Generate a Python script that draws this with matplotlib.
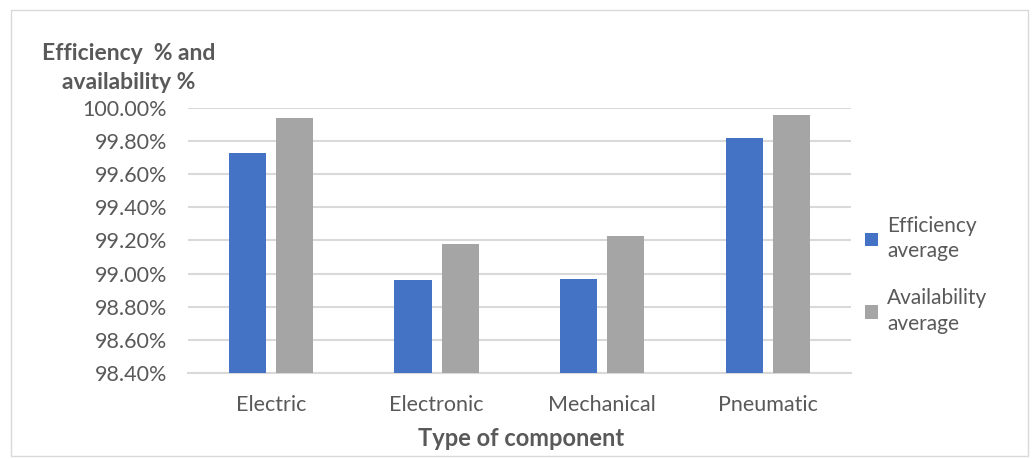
import numpy as np
import matplotlib.pyplot as plt
from matplotlib.patches import Rectangle
from matplotlib.ticker import FuncFormatter

plt.rcParams['font.family'] = ['Lato', 'DejaVu Sans']

# Data
categories = ['Electric', 'Electronic', 'Mechanical', 'Pneumatic']
efficiency = [99.727, 98.962, 98.970, 99.816]
availability = [99.940, 99.180, 99.227, 99.960]
series_names = ['Efficiency\naverage', 'Availability\naverage']
yticks = [98.4, 98.6, 98.8, 99.0, 99.2, 99.4, 99.6, 99.8, 100.0]

text_col = '#595959'
grid_col = '#d9d9d9'

fig = plt.figure(figsize=(10.35, 4.59), dpi=100)
ax = fig.add_axes([0.1816, 0.1874, 0.8222 - 0.1816, 0.7647 - 0.1874])

x = np.arange(len(categories))
w = 0.224
off = 0.142
ax.bar(x - off, efficiency, w, color='#4472C4', label=series_names[0], zorder=3)
ax.bar(x + off, availability, w, color='#A5A5A5', label=series_names[1], zorder=3)

ax.set_xlim(-0.5, len(categories) - 0.5)
ax.set_ylim(98.4, 100.0)
ax.set_yticks(yticks)
ax.yaxis.set_major_formatter(FuncFormatter(lambda v, p: f'{v:.2f}%'))
ax.set_xticks(x)
ax.set_xticklabels(categories)

ax.grid(axis='y', color=grid_col, linewidth=1.5, zorder=0)
for s in ['top', 'right', 'left']:
    ax.spines[s].set_visible(False)
ax.spines['bottom'].set_color(grid_col)
ax.spines['bottom'].set_linewidth(1.5)
ax.tick_params(axis='both', length=0, labelsize=15.5, labelcolor=text_col)
ax.tick_params(axis='y', pad=15)
ax.tick_params(axis='x', pad=16)

fig.text(0.124, 0.852, 'Efficiency  % and\navailability %', ha='center', va='center',
         fontsize=16.5, fontweight='bold', color=text_col, linespacing=1.5)
fig.text(0.503, 0.045, 'Type of component', ha='center', va='center',
         fontsize=17, fontweight='bold', color=text_col)

leg = ax.legend(loc='center left', bbox_to_anchor=(0.993, 0.37), frameon=False,
                fontsize=15, handlelength=0.6, handleheight=0.6, handletextpad=0.45,
                labelspacing=1.3, labelcolor=text_col)
for t in leg.get_texts():
    t.set_linespacing(1.35)

fig.patches.append(Rectangle((0.011, 0.006), 0.982, 0.972, transform=fig.transFigure,
                             fill=False, edgecolor='#d9d9d9', linewidth=1))

fig.savefig('out.png', dpi=100)
